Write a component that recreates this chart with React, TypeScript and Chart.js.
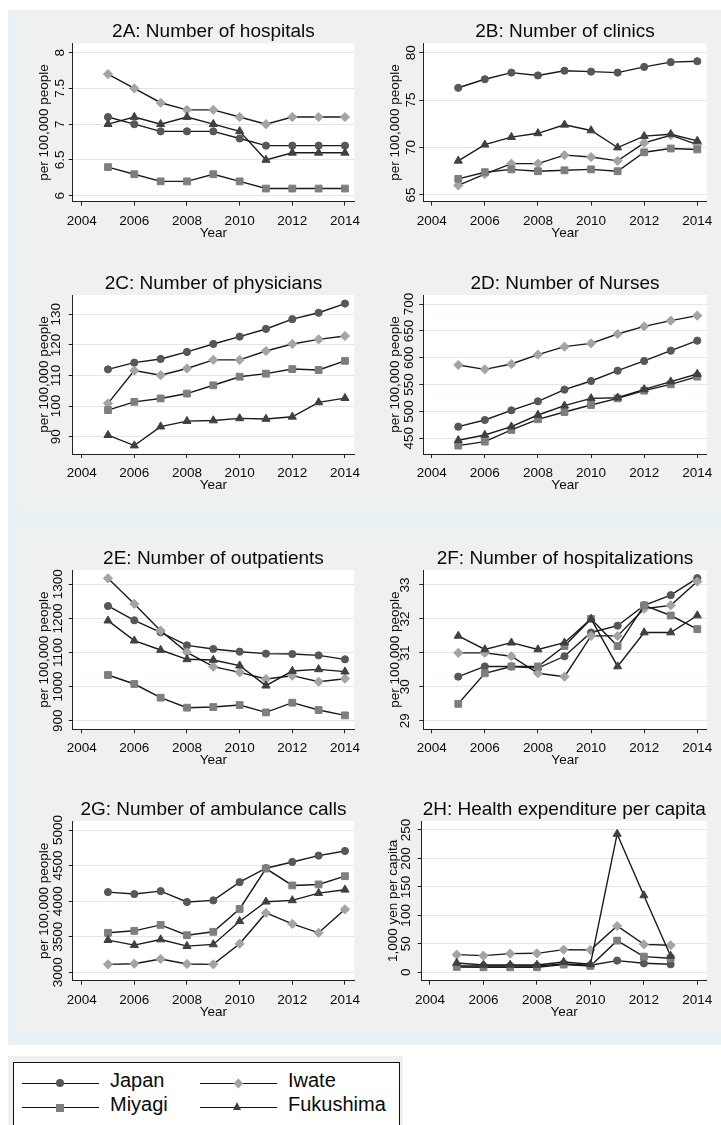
import React, { useEffect, useRef } from 'react';
import { Chart, registerables } from 'chart.js';

Chart.register(...registerables);

const FONT = '"Liberation Sans", Arial, Helvetica, sans-serif';

// ---------- data ----------
const YEARS = [2005, 2006, 2007, 2008, 2009, 2010, 2011, 2012, 2013, 2014];
const YEARS_H = [2005, 2006, 2007, 2008, 2009, 2010, 2011, 2012, 2013];
const X_TICKS = [2004, 2006, 2008, 2010, 2012, 2014];
const SERIES_NAMES = ['Japan', 'Iwate', 'Miyagi', 'Fukushima'];

// 2A hospitals
const hospJapan = [7.1, 7.0, 6.9, 6.9, 6.9, 6.8, 6.7, 6.7, 6.7, 6.7];
const hospIwate = [7.7, 7.5, 7.3, 7.2, 7.2, 7.1, 7.0, 7.1, 7.1, 7.1];
const hospMiyagi = [6.4, 6.3, 6.2, 6.2, 6.3, 6.2, 6.1, 6.1, 6.1, 6.1];
const hospFukushima = [7.0, 7.1, 7.0, 7.1, 7.0, 6.9, 6.5, 6.6, 6.6, 6.6];
const hospTicks = [6, 6.5, 7, 7.5, 8];

// 2B clinics
const clinJapan = [76.3, 77.2, 77.9, 77.6, 78.1, 78.0, 77.9, 78.5, 79.0, 79.1];
const clinIwate = [66.0, 67.2, 68.3, 68.3, 69.2, 69.0, 68.6, 70.5, 71.3, 70.3];
const clinMiyagi = [66.7, 67.4, 67.7, 67.5, 67.6, 67.7, 67.5, 69.5, 69.9, 69.8];
const clinFukushima = [68.6, 70.3, 71.1, 71.5, 72.4, 71.8, 70.0, 71.2, 71.4, 70.7];
const clinTicks = [65, 70, 75, 80];

// 2C physicians
const physJapan = [112.0, 114.2, 115.4, 117.7, 120.3, 122.7, 125.2, 128.4, 130.5, 133.5];
const physIwate = [100.9, 111.6, 110.1, 112.3, 115.1, 115.1, 118.0, 120.3, 121.8, 122.9];
const physMiyagi = [98.7, 101.4, 102.5, 104.1, 106.8, 109.6, 110.6, 112.1, 111.8, 114.8];
const physFukushima = [90.5, 87.1, 93.3, 95.1, 95.3, 96.0, 95.8, 96.5, 101.2, 102.6];
const physTicks = [90, 100, 110, 120, 130];

// 2D nurses
const nurseJapan = [471.7, 484.1, 502.1, 518.9, 540.6, 556.7, 575.9, 594.0, 613.2, 631.8];
const nurseIwate = [586.5, 578.4, 588.3, 605.7, 620.6, 626.8, 644.2, 658.4, 669.0, 678.3];
const nurseMiyagi = [436.4, 443.9, 465.6, 485.4, 499.0, 512.0, 524.4, 538.7, 550.5, 564.8];
const nurseFukushima = [446.3, 456.2, 471.7, 493.4, 510.8, 524.4, 525.6, 541.1, 555.5, 569.7];
const nurseTicks = [450, 500, 550, 600, 650, 700];

// 2E outpatients
const outJapan = [1236.4, 1194.4, 1159.2, 1121.0, 1110.3, 1102.4, 1096.6, 1095.6, 1091.7, 1080.0];
const outIwate = [1317.6, 1242.3, 1164.0, 1100.5, 1058.4, 1041.8, 1022.2, 1032.0, 1014.4, 1023.2];
const outMiyagi = [1034.0, 1007.6, 967.5, 938.1, 940.1, 946.0, 924.4, 952.8, 931.3, 915.6];
const outFukushima = [1193.4, 1134.7, 1107.3, 1080.0, 1078.0, 1061.4, 1002.7, 1045.7, 1050.6, 1043.8];
const outTicks = [900, 1000, 1100, 1200, 1300];

// 2F hospitalizations
const hzJapan = [30.3, 30.6, 30.6, 30.55, 30.9, 31.6, 31.8, 32.4, 32.7, 33.2];
const hzIwate = [31.0, 31.0, 30.9, 30.4, 30.3, 31.5, 31.5, 32.3, 32.4, 33.1];
const hzMiyagi = [29.5, 30.4, 30.6, 30.6, 31.2, 32.0, 31.2, 32.4, 32.1, 31.7];
const hzFukushima = [31.5, 31.1, 31.3, 31.1, 31.3, 32.0, 30.6, 31.6, 31.6, 32.1];
const hzTicks = [29, 30, 31, 32, 33];

// 2G ambulance calls
const ambJapan = [4127, 4100, 4141, 3988, 4011, 4267, 4463, 4551, 4640, 4705];
const ambIwate = [3112, 3121, 3187, 3117, 3112, 3401, 3834, 3680, 3555, 3885];
const ambMiyagi = [3555, 3583, 3666, 3522, 3569, 3890, 4458, 4221, 4235, 4351];
const ambFukushima = [3452, 3382, 3461, 3368, 3392, 3718, 3992, 4011, 4113, 4160];
const ambTicks = [3000, 3500, 4000, 4500, 5000];

// 2H health expenditure
const expJapan = [11.1, 11.1, 11.1, 11.1, 14.6, 12.3, 20.5, 15.8, 14.0];
const expIwate = [31.0, 29.2, 32.7, 33.3, 39.8, 39.2, 81.3, 49.1, 47.4];
const expMiyagi = [9.4, 8.8, 8.8, 8.8, 13.5, 11.1, 55.6, 27.5, 24.6];
const expFukushima = [16.4, 12.9, 12.9, 12.9, 18.1, 14.0, 243.0, 135.0, 28.7];
const expTicks = [0, 50, 100, 150, 200, 250];

// ---------- styles ----------
const LINE_COLOR = '#1a1a1a';
const GRID_COLOR = '#e3e6e7';
const PANEL_GRAY = '#eff1f1';
const OUTER_BLUE = '#e9f1f4';
const TEXT_COLOR = '#0a0a0a';

const SERIES_STYLE = [
  { pointStyle: 'circle', color: '#575757', radius: 3.6, order: 4 },
  { pointStyle: 'rectRot', color: '#a4a4a4', radius: 4.6, order: 3 },
  { pointStyle: 'rect', color: '#7e7e7e', radius: 4.8, order: 2 },
  { pointStyle: 'triangle', color: '#404040', radius: 4.7, order: 1 },
];

type PanelCfg = {
  title: string;
  yTitle: string;
  years: number[];
  values: number[][];
  yTicks: number[];
  yMin: number;
  yMax: number;
  xMin: number;
  xMax: number;
  canvas: { x: number; y: number; w: number; h: number };
  plot: { l: number; t: number; r: number; b: number };
  tickGap: number;
};

const PER = 'per 100,000 people';

const PANELS: PanelCfg[] = [
  {
    title: '2A: Number of hospitals', yTitle: PER, years: YEARS,
    values: [hospJapan, hospIwate, hospMiyagi, hospFukushima], yTicks: hospTicks,
    yMin: 5.916, yMax: 8.131, xMin: 2003.66, xMax: 2014.351,
    canvas: { x: 18, y: 10, w: 342, h: 242 }, plot: { l: 72.7, t: 43.3, r: 356, b: 201.7 }, tickGap: 8.7,
  },
  {
    title: '2B: Number of clinics', yTitle: PER, years: YEARS,
    values: [clinJapan, clinIwate, clinMiyagi, clinFukushima], yTicks: clinTicks,
    yMin: 64.29, yMax: 80.99, xMin: 2003.684, xMax: 2014.354,
    canvas: { x: 360, y: 10, w: 361, h: 242 }, plot: { l: 423.3, t: 43.3, r: 706.7, b: 201.7 }, tickGap: 8.3,
  },
  {
    title: '2C: Number of physicians', yTitle: PER, years: YEARS,
    values: [physJapan, physIwate, physMiyagi, physFukushima], yTicks: physTicks,
    yMin: 84.35, yMax: 136.3, xMin: 2003.66, xMax: 2014.351,
    canvas: { x: 18, y: 258, w: 342, h: 251 }, plot: { l: 72.7, t: 295, r: 356, b: 454 }, tickGap: 12.7,
  },
  {
    title: '2D: Number of Nurses', yTitle: PER, years: YEARS,
    values: [nurseJapan, nurseIwate, nurseMiyagi, nurseFukushima], yTicks: nurseTicks,
    yMin: 420.8, yMax: 716.8, xMin: 2003.684, xMax: 2014.354,
    canvas: { x: 360, y: 258, w: 361, h: 251 }, plot: { l: 423.3, t: 295, r: 706.7, b: 454 }, tickGap: 10,
  },
  {
    title: '2E: Number of outpatients', yTitle: PER, years: YEARS,
    values: [outJapan, outIwate, outMiyagi, outFukushima], yTicks: outTicks,
    yMin: 874.8, yMax: 1341.9, xMin: 2003.66, xMax: 2014.351,
    canvas: { x: 18, y: 529, w: 342, h: 261 }, plot: { l: 72.7, t: 570, r: 356, b: 729.3 }, tickGap: 11,
  },
  {
    title: '2F: Number of hospitalizations', yTitle: PER, years: YEARS,
    values: [hzJapan, hzIwate, hzMiyagi, hzFukushima], yTicks: hzTicks,
    yMin: 28.75, yMax: 33.44, xMin: 2003.684, xMax: 2014.354,
    canvas: { x: 360, y: 529, w: 361, h: 261 }, plot: { l: 423.3, t: 570, r: 706.7, b: 729.3 }, tickGap: 14,
  },
  {
    title: '2G: Number of ambulance calls', yTitle: PER, years: YEARS,
    values: [ambJapan, ambIwate, ambMiyagi, ambFukushima], yTicks: ambTicks,
    yMin: 2882, yMax: 5126.5, xMin: 2003.66, xMax: 2014.351,
    canvas: { x: 18, y: 790, w: 342, h: 243 }, plot: { l: 72.7, t: 821, r: 356, b: 980.7 }, tickGap: 11,
  },
  {
    title: '2H: Health expenditure per capita', yTitle: '1,000 yen per capita', years: YEARS_H,
    values: [expJapan, expIwate, expMiyagi, expFukushima], yTicks: expTicks,
    yMin: -14.8, yMax: 265.8, xMin: 2003.69, xMax: 2014.35,
    canvas: { x: 360, y: 790, w: 361, h: 243 }, plot: { l: 421.7, t: 821, r: 706.7, b: 980.7 }, tickGap: 11.7,
  },
];

function Panel({ cfg }: { cfg: PanelCfg }) {
  const ref = useRef<HTMLCanvasElement | null>(null);

  useEffect(() => {
    const c = cfg.canvas;
    const p = cfg.plot;

    const deco = {
      id: 'panelDeco',
      beforeDraw(chart: any) {
        const { ctx, chartArea } = chart;
        ctx.save();
        ctx.fillStyle = '#ffffff';
        ctx.fillRect(chartArea.left, chartArea.top, chartArea.right - chartArea.left, chartArea.bottom - chartArea.top);
        ctx.restore();
      },
      afterDraw(chart: any) {
        const { ctx, chartArea, scales } = chart;
        const xs = scales.x;
        const ys = scales.y;
        const midX = (chartArea.left + chartArea.right) / 2;
        const midY = (chartArea.top + chartArea.bottom) / 2;
        ctx.save();
        ctx.fillStyle = TEXT_COLOR;
        // title
        ctx.font = `19px ${FONT}`;
        ctx.textAlign = 'center';
        ctx.textBaseline = 'alphabetic';
        ctx.fillText(cfg.title, midX, chartArea.top - 6);
        // x tick labels
        ctx.font = `13.5px ${FONT}`;
        xs.ticks.forEach((t: any) => {
          ctx.fillText(String(t.value), xs.getPixelForValue(t.value), chartArea.bottom + 23);
        });
        ctx.fillText('Year', midX, chartArea.bottom + 35);
        // y tick labels (vertical)
        ys.ticks.forEach((t: any) => {
          const py = ys.getPixelForValue(t.value);
          ctx.save();
          ctx.translate(chartArea.left - cfg.tickGap, py);
          ctx.rotate(-Math.PI / 2);
          ctx.textAlign = 'center';
          ctx.textBaseline = 'alphabetic';
          ctx.fillText(String(t.value), 0, 0);
          ctx.restore();
        });
        // y title
        ctx.save();
        ctx.translate(chartArea.left - 28, midY);
        ctx.rotate(-Math.PI / 2);
        ctx.textAlign = 'center';
        ctx.textBaseline = 'middle';
        ctx.fillText(cfg.yTitle, 0, 0);
        ctx.restore();
        ctx.restore();
      },
    };

    const chart = new Chart(ref.current as HTMLCanvasElement, {
      type: 'line',
      data: {
        datasets: SERIES_NAMES.map((name, i) => {
          const s = SERIES_STYLE[i];
          return {
            label: name,
            data: cfg.years.map((yr, j) => ({ x: yr, y: cfg.values[i][j] })),
            borderColor: LINE_COLOR,
            borderWidth: 1.4,
            pointStyle: s.pointStyle as any,
            pointRadius: s.radius,
            pointBackgroundColor: s.color,
            pointBorderColor: s.color,
            pointBorderWidth: 1,
            order: s.order,
            tension: 0,
            fill: false,
          };
        }),
      },
      options: {
        responsive: false,
        animation: false,
        devicePixelRatio: 1,
        events: [],
        layout: { padding: { left: 0, top: p.t - c.y, right: c.x + c.w - p.r, bottom: 0 } },
        plugins: { legend: { display: false }, tooltip: { enabled: false }, title: { display: false } },
        scales: {
          x: {
            type: 'linear',
            min: cfg.xMin,
            max: cfg.xMax,
            afterBuildTicks: (axis: any) => { axis.ticks = X_TICKS.map((v) => ({ value: v })); },
            afterFit: (axis: any) => { axis.height = c.y + c.h - p.b; },
            ticks: { display: false },
            grid: { drawOnChartArea: false, drawTicks: true, tickLength: 4, tickColor: '#222', tickWidth: 1 },
            border: { display: true, color: '#222', width: 1 },
          },
          y: {
            type: 'linear',
            min: cfg.yMin,
            max: cfg.yMax,
            afterBuildTicks: (axis: any) => { axis.ticks = cfg.yTicks.map((v) => ({ value: v })); },
            afterFit: (axis: any) => { axis.width = p.l - c.x; },
            ticks: { display: false },
            grid: { color: GRID_COLOR, lineWidth: 1, drawTicks: true, tickLength: 4, tickColor: '#222', tickWidth: 1 },
            border: { display: true, color: '#222', width: 1 },
          },
        },
      } as any,
      plugins: [deco],
    });
    return () => chart.destroy();
  }, [cfg]);

  return (
    <canvas
      ref={ref}
      width={cfg.canvas.w}
      height={cfg.canvas.h}
      style={{ position: 'absolute', left: cfg.canvas.x, top: cfg.canvas.y, width: cfg.canvas.w, height: cfg.canvas.h }}
    />
  );
}

function LegendMarker({ kind, cx, cy }: { kind: number; cx: number; cy: number }) {
  const s = SERIES_STYLE[kind];
  if (kind === 0) {
    return <div style={{ position: 'absolute', left: cx - 4, top: cy - 4, width: 8, height: 8, borderRadius: '50%', background: s.color }} />;
  }
  if (kind === 1) {
    return <div style={{ position: 'absolute', left: cx - 3.4, top: cy - 3.4, width: 6.8, height: 6.8, transform: 'rotate(45deg)', background: s.color }} />;
  }
  if (kind === 2) {
    return <div style={{ position: 'absolute', left: cx - 4, top: cy - 4, width: 8, height: 8, background: s.color }} />;
  }
  return (
    <div
      style={{
        position: 'absolute', left: cx - 4.8, top: cy - 5.2, width: 0, height: 0,
        borderLeft: '4.8px solid transparent', borderRight: '4.8px solid transparent', borderBottom: `8.4px solid ${s.color}`,
      }}
    />
  );
}

function LegendEntry({ kind, x0, cy }: { kind: number; x0: number; cy: number }) {
  return (
    <>
      <div style={{ position: 'absolute', left: x0, top: cy - 0.75, width: 77, height: 1.5, background: '#111' }} />
      <LegendMarker kind={kind} cx={x0 + 38.5} cy={cy} />
      <div
        style={{
          position: 'absolute', left: x0 + 88.5, top: cy + 3.5 - 18.6, fontFamily: FONT, fontSize: 20,
          lineHeight: '24px', color: TEXT_COLOR, whiteSpace: 'nowrap',
        }}
      >
        {SERIES_NAMES[kind]}
      </div>
    </>
  );
}

export default function App() {
  return (
    <div style={{ position: 'absolute', left: 0, top: 0, width: 721, height: 1125, overflow: 'hidden', background: '#fff' }}>
      <div style={{ position: 'absolute', left: 8, top: 10, width: 713, height: 1035, background: OUTER_BLUE }} />
      <div style={{ position: 'absolute', left: 18, top: 10, width: 703, height: 499, background: PANEL_GRAY }} />
      <div style={{ position: 'absolute', left: 18, top: 529, width: 703, height: 504, background: PANEL_GRAY }} />
      {PANELS.map((cfg) => (
        <Panel key={cfg.title} cfg={cfg} />
      ))}
      <div style={{ position: 'absolute', left: 8, top: 1056, width: 395, height: 69, background: PANEL_GRAY }} />
      <div
        style={{
          position: 'absolute', left: 13, top: 1062, width: 387, height: 80, background: '#fff',
          border: '1px solid #111', boxSizing: 'border-box',
        }}
      />
      <LegendEntry kind={0} x0={21.5} cy={1083.3} />
      <LegendEntry kind={1} x0={199.5} cy={1083.3} />
      <LegendEntry kind={2} x0={21.5} cy={1107.5} />
      <LegendEntry kind={3} x0={199.5} cy={1107.5} />
    </div>
  );
}
